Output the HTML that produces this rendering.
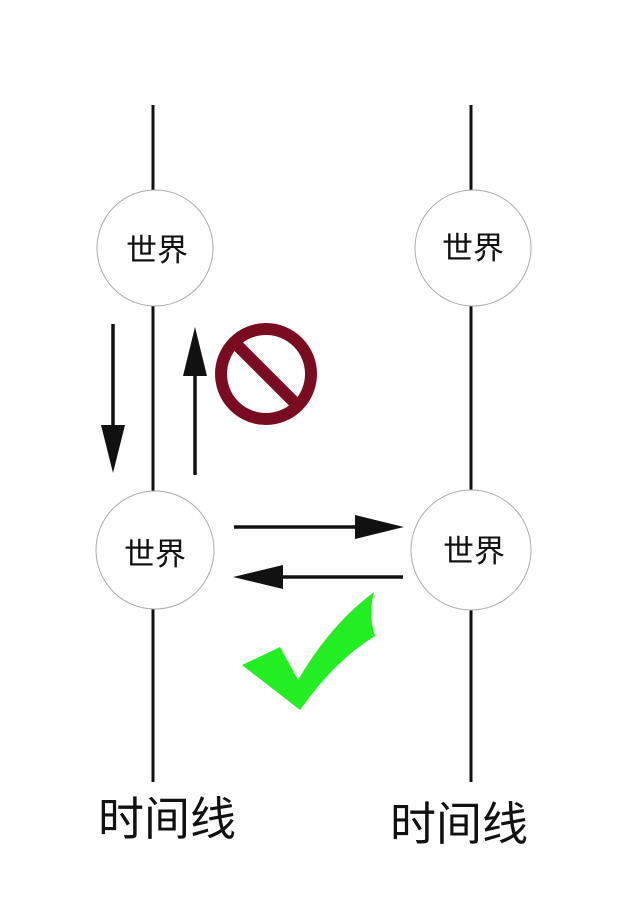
<!DOCTYPE html>
<html><head><meta charset="utf-8"><style>
body{margin:0;background:#fff;}
svg{display:block;}
text{font-family:"Liberation Sans","Noto Sans CJK SC",sans-serif;fill:#111;}
</style></head><body>
<svg width="640" height="905" viewBox="0 0 640 905">
<line x1="153" y1="105" x2="153" y2="782" stroke="#111" stroke-width="3"/>
<line x1="471" y1="105" x2="471" y2="782" stroke="#111" stroke-width="3"/>
<g fill="#fff" stroke="#aaa" stroke-width="1">
<circle cx="155" cy="248" r="58"/>
<circle cx="155" cy="550" r="59"/>
<circle cx="473" cy="248" r="58"/>
<circle cx="471" cy="550" r="60"/>
</g>
<g font-size="31" text-anchor="middle">
<text x="157" y="261">世界</text>
<text x="155" y="565">世界</text>
<text x="473" y="259">世界</text>
<text x="474" y="562">世界</text>
</g>
<g stroke="#111" stroke-width="3.5">
<line x1="113" y1="324" x2="113" y2="430"/>
<line x1="195" y1="370" x2="195" y2="475"/>
<line x1="234" y1="527" x2="360" y2="527"/>
<line x1="280" y1="577" x2="403" y2="577"/>
</g>
<g fill="#111">
<polygon points="101,425 125,425 113,473"/>
<polygon points="183,376 207,376 195,327"/>
<polygon points="355,515 355,539 404,527"/>
<polygon points="283,565 283,589 233,577"/>
</g>
<circle cx="266" cy="374" r="45" fill="none" stroke="#7a0c22" stroke-width="12"/>
<line x1="234" y1="342" x2="298" y2="406" stroke="#7a0c22" stroke-width="12"/>
<path d="M242,665 L280,647 L298,680 Q330,625 374,592 Q368,615 375,636 Q335,660 300,710 Z" fill="#22ee22"/>
<g font-size="46">
<text x="98" y="835">时间线</text>
<text x="390" y="840">时间线</text>
</g>
</svg>
</body></html>
